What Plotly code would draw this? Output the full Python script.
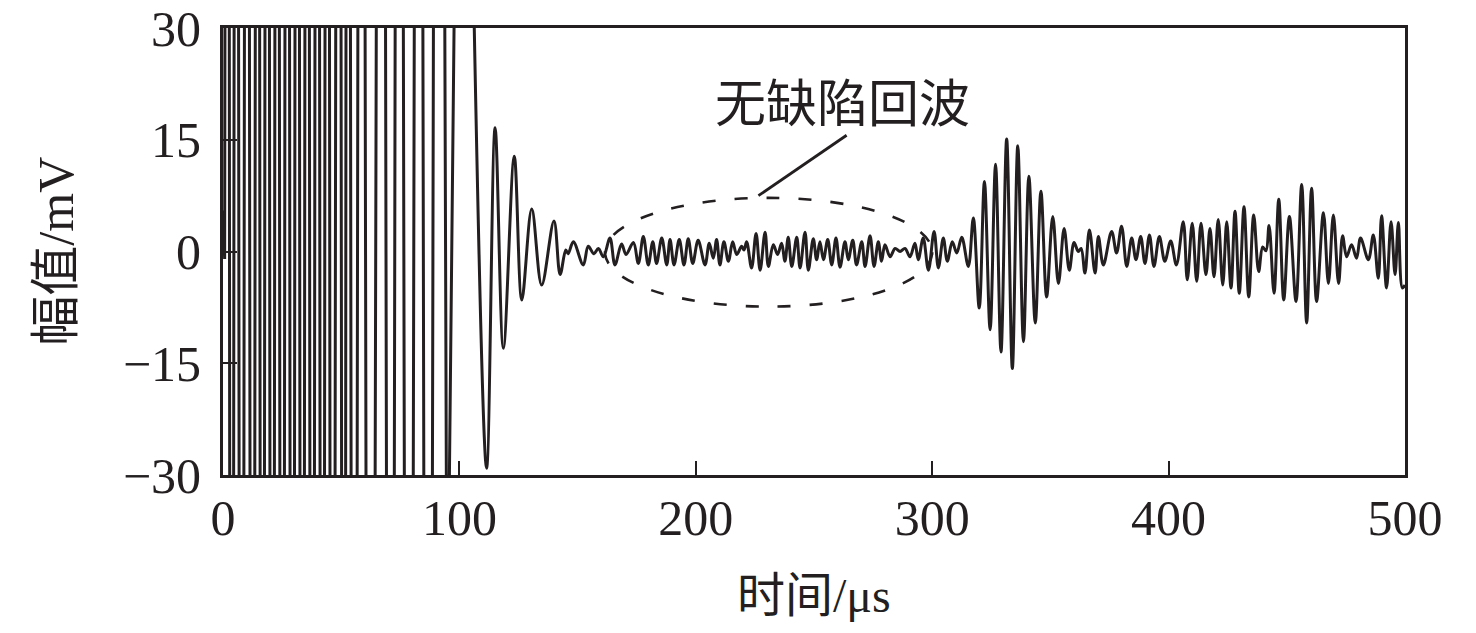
import plotly.graph_objects as go

INK = '#231f20'
SERIF = 'Liberation Serif, Noto Sans CJK SC, serif'

# off-scale transducer ringing at the start (peaks clipped by the axis range)
sat_t = [0.0, 0.7, 1.9, 3.6, 5.6, 7.8, 10.1, 12.5, 14.6, 16.6, 18.7, 20.8,
         22.9, 25.0, 27.2, 29.3, 31.4, 33.5, 35.6, 37.7, 39.9, 42.0, 44.1,
         46.2, 48.9, 51.2, 52.7, 55.4, 58.4, 62.2, 67.0, 70.9, 74.4, 78.6,
         82.8, 86.7, 90.9, 94.8, 98.0, 102.3, 105.8]
sat_v = [5.5, -1.0,
         300, -300, 300, -300, 300, -300, 300, -300, 300, -300,
         300, -300, 300, -300, 300, -300, 300, -300, 300, -300,
         300, -300, 300, -300, 300, -300, 300, -300, 300, -300,
         300, -300, 300, -300, 300,
         -60, 38]

# decaying tail of the initial pulse
ring_t = [111.5, 115.1, 118.6, 123.2, 126.4, 130.6, 134.8, 140.0, 142.6,
          145.0, 146.0, 148.2, 152.4]
ring_v = [-29.1, 16.6, -13.0, 12.8, -6.5, 5.7, -4.5, 4.1, -3.1,
          0.2, -0.3, 1.3, -1.8]

# defect-free zone
quiet_t = [154.5, 156.9, 158.8, 160.9, 163.7, 165.8, 168.6, 170.5, 173.6,
           175.7, 177.8, 179.9, 181.8, 183.4, 185.6, 187.7, 189.1, 190.8,
           193.0, 195.0, 196.8, 198.7, 201.0, 203.9, 205.7, 207.4, 208.8,
           210.2, 211.9, 213.8, 215.6, 217.3, 219.4, 220.4, 221.5, 223.6,
           225.5, 227.2, 229.3, 230.7, 232.8, 234.6, 236.3, 237.7, 239.1,
           240.6, 242.7, 244.1, 246.2, 247.6, 249.7, 251.1, 252.5, 254.0,
           255.8, 257.5, 259.3, 261.0, 263.1, 264.5, 266.4, 268.0, 270.2,
           271.6, 273.7, 275.4, 277.2, 278.6, 280.0, 282.2, 284.3, 286.4,
           288.5, 290.6, 292.7, 294.1, 296.2, 298.4, 300.8, 302.6, 304.7,
           306.4, 308.5, 310.4, 312.5, 315.3]
quiet_v = [0.7, -0.3, 0.4, -0.7, 1.8, -1.8, 1.0, -0.4, 1.2,
           -1.6, 2.0, -1.8, 1.3, -1.6, 1.8, -1.8, 1.6, -1.8,
           1.6, -1.8, 1.7, -1.6, 1.5, -1.8, 1.1, -0.9, 1.6,
           -1.8, 1.3, -1.3, 1.3, -0.4, 0.7, 0.2, 1.3, -2.2,
           2.4, -2.5, 2.6, -2.0, 0.9, -0.4, 1.1, -1.3, 1.9,
           -2.0, 1.9, -2.2, 2.6, -2.5, 1.7, -1.1, 1.3, -1.1,
           1.6, -1.8, 1.8, -2.1, 1.3, -1.1, 1.5, -1.8, 1.3,
           -2.0, 2.1, -2.0, 1.3, -1.3, 0.9, -0.7, 0.4, 0.0,
           0.4, -0.7, 1.1, -1.1, 1.8, -2.5, 2.7, -2.2, 1.8,
           -1.3, 1.3, -0.2, 1.9, -2.0]

# back-wall echo
echo_t = [317.4, 319.9, 322.1, 324.5, 326.8, 329.1, 331.5, 333.9, 336.2,
          338.6, 340.9, 343.6, 346.0, 348.4, 351.0, 353.4, 355.8, 358.0,
          360.0, 361.8, 363.0, 364.6, 366.5, 368.9, 370.3, 372.4, 375.9,
          378.0, 380.1, 382.3, 384.4, 386.2, 388.2, 390.0, 391.9, 393.8,
          396.1, 398.4, 400.9, 403.3]
echo_v = [4.5, -7.6, 9.4, -10.5, 11.7, -13.5, 15.1, -15.7, 14.2,
          -12.1, 10.1, -9.6, 8.1, -6.1, 4.7, -4.3, 3.1, -2.5,
          1.2, 0.0, 0.4, -2.9, 2.9, -2.9, 2.0, -1.8, 2.7,
          -0.2, 3.4, -2.0, 1.8, -1.1, 2.0, -1.6, 2.2, -2.0,
          2.0, -1.3, 1.4, -1.8]

# later reverberation
tail_t = [406.2, 407.9, 410.0, 411.9, 413.7, 415.8, 417.5, 419.2, 421.0,
          422.9, 424.6, 426.4, 428.1, 429.9, 431.9, 433.9, 436.0, 438.1,
          439.8, 441.2, 442.5, 444.6, 446.6, 448.7, 451.1, 453.9, 456.3,
          458.4, 460.5, 462.6, 465.5, 467.6, 469.7, 471.9, 473.6, 475.3,
          477.4, 479.5, 481.2, 484.5, 486.6, 488.7, 490.1, 492.2, 494.1,
          495.8, 497.2, 498.9, 500.0]
tail_v = [4.0, -3.8, 3.8, -4.0, 3.8, -3.1, 3.1, -3.4, 4.3,
          -4.5, 4.0, -4.9, 5.4, -5.6, 6.0, -6.1, 4.9, -2.7,
          0.6, 0.1, 3.5, -5.6, 7.0, -6.5, 4.7, -6.7, 9.0,
          -9.6, 8.5, -6.7, 5.2, -4.3, 4.9, -4.3, 2.1, -0.7,
          0.9, -0.9, 1.8, -1.1, 2.2, -3.6, 4.8, -4.9, 4.0,
          -3.1, 3.9, -4.9, -4.5]

x_ticks = [0, 100, 200, 300, 400, 500]
y_ticks = [-30, -15, 0, 15, 30]

fig = go.Figure()

fig.add_trace(
    go.Scatter(
        x=sat_t,
        y=sat_v,
        mode='lines',
        line=dict(color=INK, width=3),
        showlegend=False,
        hoverinfo='skip'
    )
)

smooth_t = sat_t[-1:] + ring_t + quiet_t + echo_t + tail_t
smooth_v = sat_v[-1:] + ring_v + quiet_v + echo_v + tail_v

fig.add_trace(
    go.Scatter(
        x=smooth_t,
        y=smooth_v,
        mode='lines',
        line=dict(color=INK, width=3, shape='spline', smoothing=1.0),
        showlegend=False,
        hovertemplate='%{x:.1f} μs<br>%{y:.1f} mV<extra></extra>'
    )
)

# dashed ellipse around the defect-free zone + leader line
fig.add_shape(
    type='circle',
    xref='x', yref='y',
    x0=161.6, x1=300.0, y0=-7.4, y1=7.2,
    line=dict(color=INK, width=2.6, dash='13px,19px')
)
fig.add_shape(
    type='line',
    xref='x', yref='y',
    x0=226.5, y0=7.5, x1=263.8, y1=15.6,
    line=dict(color=INK, width=2.8)
)
fig.add_annotation(
    x=262.0, y=19.6,
    xref='x', yref='y',
    xanchor='center', yanchor='middle',
    text='无缺陷回波',
    showarrow=False,
    font=dict(family=SERIF, size=51, color=INK)
)

# axis titles
fig.add_annotation(
    x=0.5, y=-0.27,
    xref='paper', yref='paper',
    xanchor='center', yanchor='middle',
    text='时间/μs',
    showarrow=False,
    font=dict(family=SERIF, size=48, color=INK)
)
fig.add_annotation(
    x=-0.142, y=0.5,
    xref='paper', yref='paper',
    xanchor='center', yanchor='middle',
    text='幅值/mV',
    textangle=-90,
    showarrow=False,
    font=dict(family=SERIF, size=50, color=INK)
)

axis_common = dict(
    showgrid=False,
    zeroline=False,
    showline=True,
    linecolor=INK,
    linewidth=2.8,
    mirror=True,
    ticks='inside',
    ticklen=14,
    tickwidth=2.4,
    tickcolor=INK,
    automargin=False,
    ticklabeloverflow='allow',
    tickfont=dict(family=SERIF, size=50, color=INK),
)

# the page adds an 8 px body margin, so the figure is sized to fit inside it
fig.update_layout(
    width=1460,
    height=617,
    margin=dict(l=215, r=63, t=20, b=150),
    paper_bgcolor='white',
    plot_bgcolor='white',
    xaxis=dict(
        range=[0, 500],
        tickmode='array',
        tickvals=x_ticks,
        ticklabelstandoff=-3,
        **axis_common
    ),
    yaxis=dict(
        range=[-30, 30],
        tickmode='array',
        tickvals=y_ticks,
        ticklabelstandoff=9,
        **axis_common
    ),
)

fig.write_html('out.html')
